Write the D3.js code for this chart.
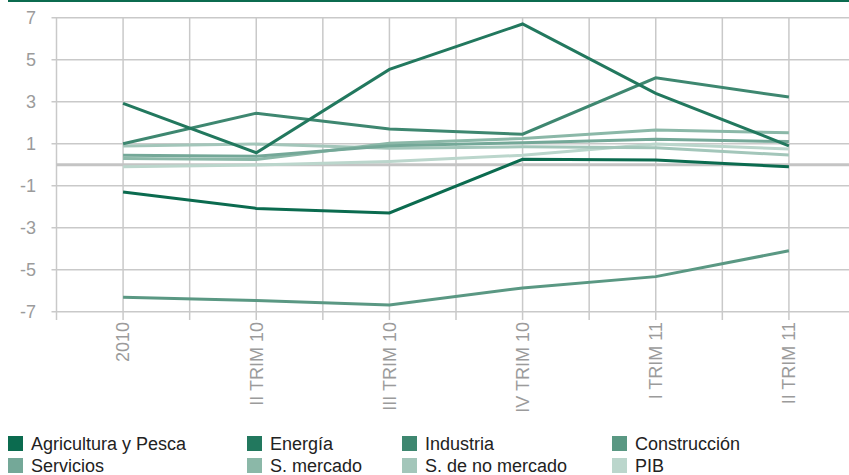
<!DOCTYPE html>
<html>
<head>
<meta charset="utf-8">
<script src="https://cdn.jsdelivr.net/npm/d3@7"></script>
<style>
  html, body { margin: 0; padding: 0; background: #ffffff; }
  svg { display: block; font-family: "Liberation Sans", Arial, sans-serif; }
</style>
</head>
<body>
<svg id="chart" width="849" height="475"></svg>
<script>
// Periods on the horizontal axis
const categories = ["2010", "II TRIM 10", "III TRIM 10", "IV TRIM 10", "I TRIM 11", "II TRIM 11"];

// Year-on-year change (%) by branch of activity
const agricultura   = [-1.3, -2.08, -2.3, 0.26, 0.22, -0.1];
const energia       = [2.92, 0.57, 4.54, 6.7, 3.4, 0.9];
const industria     = [1.0, 2.45, 1.7, 1.45, 4.14, 3.22];
const construccion  = [-6.31, -6.47, -6.68, -5.87, -5.33, -4.1];
const servicios     = [0.45, 0.4, 0.9, 1.05, 1.21, 1.1];
const sMercado      = [0.3, 0.25, 1.02, 1.25, 1.65, 1.52];
const sNoMercado    = [0.89, 0.98, 0.78, 0.85, 0.81, 0.46];
const pib           = [-0.1, -0.02, 0.15, 0.45, 0.98, 0.75];

const seriesNames  = ["Agricultura y Pesca", "Energía", "Industria", "Construcción",
                      "Servicios", "S. mercado", "S. de no mercado", "PIB"];
const seriesValues = [agricultura, energia, industria, construccion,
                      servicios, sMercado, sNoMercado, pib];
const seriesColors = ["#0b6b4f", "#22785e", "#3e8770", "#5a9883",
                      "#74a898", "#8bb8a8", "#a3c6ba", "#bbd6cc"];

// Value axis ticks
const yTicks = [-7, -5, -3, -1, 1, 3, 5, 7];

const svg = d3.select("#chart");

// Position by category index; grid runs every half period
const xIdx = d3.scaleLinear().domain([-0.5, 5.5]).range([56.5, 855.5]);
const y = d3.scaleLinear().domain([-7, 7]).range([311.7, 17.7]);

const gridColor = "#c9c9c9";
const labelColor = "#9b9b9b";

// Top rule
svg.append("rect")
  .attr("x", 8).attr("y", 0).attr("width", 841).attr("height", 2)
  .attr("fill", "#0b6b4f");

// Horizontal gridlines (with tick stubs on the left)
svg.append("g").selectAll("line")
  .data(yTicks)
  .join("line")
  .attr("x1", 51.5).attr("x2", 849)
  .attr("y1", d => y(d)).attr("y2", d => y(d))
  .attr("stroke", gridColor).attr("stroke-width", 1.5);

// Vertical gridlines (with tick stubs below the axis)
const halfSteps = d3.range(-0.5, 5.01, 0.5);
svg.append("g").selectAll("line")
  .data(halfSteps)
  .join("line")
  .attr("x1", d => xIdx(d)).attr("x2", d => xIdx(d))
  .attr("y1", y(7)).attr("y2", 320)
  .attr("stroke", gridColor).attr("stroke-width", 1.5);

// Zero reference line
svg.append("line")
  .attr("x1", 56.5).attr("x2", 849)
  .attr("y1", y(0)).attr("y2", y(0))
  .attr("stroke", "#c4c4c4").attr("stroke-width", 3);

// Y axis labels
svg.append("g").selectAll("text")
  .data(yTicks)
  .join("text")
  .attr("x", 36).attr("y", d => y(d))
  .attr("dy", "0.35em")
  .attr("text-anchor", "end")
  .attr("font-size", 18)
  .attr("fill", labelColor)
  .text(d => d);

// X axis labels, rotated
svg.append("g").selectAll("text")
  .data(categories)
  .join("text")
  .attr("transform", (d, i) => `translate(${xIdx(i)},322) rotate(-90)`)
  .attr("dy", "0.35em")
  .attr("text-anchor", "end")
  .attr("font-size", 18)
  .attr("fill", labelColor)
  .text(d => d);

// Series lines (lighter drawn first, darker on top)
const line = d3.line()
  .x((d, i) => xIdx(i))
  .y(d => y(d));

const order = d3.range(seriesValues.length).reverse();
svg.append("g").selectAll("path")
  .data(order)
  .join("path")
  .attr("d", k => line(seriesValues[k]))
  .attr("fill", "none")
  .attr("stroke", k => seriesColors[k])
  .attr("stroke-width", 3)
  .attr("stroke-linejoin", "miter");

// Legend: two rows of four
const legendCols = [8, 247, 402, 612];
const legendRows = [436, 458];
const legend = svg.append("g").selectAll("g")
  .data(seriesNames)
  .join("g")
  .attr("transform", (d, i) => `translate(${legendCols[i % 4]},${legendRows[Math.floor(i / 4)]})`);

legend.append("rect")
  .attr("width", 15).attr("height", 15)
  .attr("fill", (d, i) => seriesColors[i]);

legend.append("text")
  .attr("x", 23).attr("y", 7.5)
  .attr("dy", "0.35em")
  .attr("font-size", 18)
  .attr("fill", "#222222")
  .text(d => d);
</script>
</body>
</html>
